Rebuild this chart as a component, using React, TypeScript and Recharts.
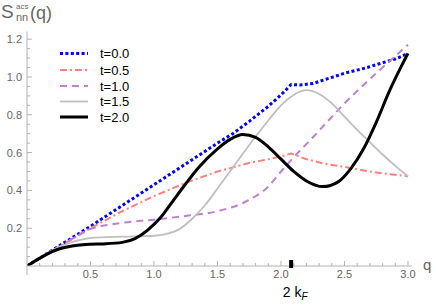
import { LineChart, Line, XAxis, YAxis } from "recharts";

// t = 0.0
const qT00 = [0, 0.25, 0.5, 0.75, 1.0, 1.25, 1.5, 1.62, 1.75, 1.9, 2.0, 2.08, 2.15, 2.25, 2.41, 2.5, 2.68, 2.75, 2.9, 3.0];
const sT00 = [0, 0.105, 0.21, 0.32, 0.43, 0.54, 0.65, 0.7, 0.765, 0.845, 0.905, 0.96, 0.958, 0.965, 1.0, 1.02, 1.05, 1.065, 1.095, 1.125];

// t = 0.5
const qT05 = [0, 0.25, 0.5, 0.75, 1.0, 1.25, 1.5, 1.75, 1.9, 2.0, 2.08, 2.2, 2.35, 2.5, 2.65, 2.8, 3.0];
const sT05 = [0, 0.1, 0.2, 0.29, 0.37, 0.44, 0.5, 0.545, 0.565, 0.58, 0.595, 0.565, 0.54, 0.525, 0.505, 0.49, 0.475];

// t = 1.0
const qT10 = [0, 0.25, 0.5, 0.75, 1.0, 1.25, 1.5, 1.75, 1.9, 2.0, 2.1, 2.25, 2.5, 2.75, 3.0];
const sT10 = [0, 0.1, 0.195, 0.228, 0.245, 0.265, 0.29, 0.35, 0.42, 0.5, 0.575, 0.68, 0.86, 1.02, 1.17];

// t = 1.5
const qT15 = [0, 0.25, 0.4, 0.5, 0.75, 1.0, 1.1, 1.2, 1.3, 1.4, 1.5, 1.62, 1.75, 1.9, 2.0, 2.1, 2.2, 2.3, 2.4, 2.5, 2.6, 2.7, 2.8, 2.9, 3.0];
const sT15 = [0, 0.1, 0.135, 0.148, 0.155, 0.16, 0.17, 0.195, 0.25, 0.32, 0.41, 0.52, 0.64, 0.77, 0.85, 0.905, 0.93, 0.91, 0.86, 0.79, 0.72, 0.655, 0.59, 0.53, 0.475];

// t = 2.0
const qT20 = [0, 0.25, 0.4, 0.5, 0.6, 0.75, 0.85, 0.95, 1.05, 1.15, 1.25, 1.35, 1.5, 1.6, 1.7, 1.8, 1.9, 2.0, 2.1, 2.2, 2.33, 2.45, 2.55, 2.65, 2.75, 2.85, 2.95, 3.0];
const sT20 = [0, 0.09, 0.11, 0.115, 0.117, 0.125, 0.145, 0.19, 0.255, 0.345, 0.435, 0.52, 0.62, 0.67, 0.695, 0.68, 0.63, 0.565, 0.5, 0.45, 0.42, 0.445, 0.515, 0.62, 0.76, 0.92, 1.06, 1.125];

const xMajor = [0.5, 1.0, 1.5, 2.0, 2.5, 3.0];
const yMajor = [0.2, 0.4, 0.6, 0.8, 1.0, 1.2];
const twoKF = 2.08;

const xTicks = [0, ...Array.from({ length: 30 }, (_, i) => Number(((i + 1) / 10).toFixed(1))), twoKF];
const yTicks = Array.from({ length: 24 }, (_, i) => Number(((i + 1) * 0.05).toFixed(2)));

const toRows = (q: number[], s: number[]) => q.map((v, i) => ({ q: v, s: s[i] }));

const series = [
  { name: "t=0.0", data: toRows(qT00, sT00), color: "#0000ff", width: 3, dash: "3 2.4", type: "linear" },
  { name: "t=0.5", data: toRows(qT05, sT05), color: "#ff8080", width: 2, dash: "7 3 2 3", type: "linear" },
  { name: "t=1.0", data: toRows(qT10, sT10), color: "#bf80cf", width: 2, dash: "7 5", type: "monotone" },
  { name: "t=1.5", data: toRows(qT15, sT15), color: "#bfbfbf", width: 1.8, dash: undefined, type: "monotone" },
  { name: "t=2.0", data: toRows(qT20, sT20), color: "#000000", width: 3, dash: undefined, type: "monotone" },
];

const axisGray = "#b3b3b3";
const labelGray = "#666666";
const font = "'Liberation Sans', Arial, sans-serif";

const XTick = (props: any) => {
  const { x, y, payload } = props;
  const v = payload.value;
  if (v === twoKF) {
    return (
      <g>
        <rect x={x - 2} y={y - 6} width={4} height={8} fill="#000" />
        <text x={x + 4} y={y + 31} textAnchor="middle" fontSize={14} fontFamily={font} fill="#000">
          2 k<tspan fontSize={10} dy={3} fontStyle="italic">F</tspan>
        </text>
      </g>
    );
  }
  if (v === 0) {
    return <line x1={x} y1={y} x2={x} y2={y + 9} stroke={axisGray} />;
  }
  const major = xMajor.some((m) => Math.abs(m - v) < 1e-6);
  return (
    <g>
      <line x1={x} y1={y} x2={x} y2={y - (major ? 5 : 3)} stroke={axisGray} />
      {major && (
        <text x={x} y={y + 12} textAnchor="middle" fontSize={11} fontFamily={font} fill={labelGray}>
          {v.toFixed(1)}
        </text>
      )}
    </g>
  );
};

const YTick = (props: any) => {
  const { x, y, payload } = props;
  const v = payload.value;
  const major = yMajor.some((m) => Math.abs(m - v) < 1e-6);
  return (
    <g>
      <line x1={x} y1={y} x2={x + (major ? 5 : 3)} y2={y} stroke={axisGray} />
      {major && (
        <text x={x - 5} y={y + 4} textAnchor="end" fontSize={11} fontFamily={font} fill={labelGray}>
          {v.toFixed(1)}
        </text>
      )}
    </g>
  );
};

const legendRows = [53.5, 70, 86, 101.5, 117];

export default function App() {
  return (
    <div style={{ position: "absolute", left: 0, top: 0, width: 436, height: 305 }}>
      <LineChart width={436} height={305} margin={{ top: 31.6, right: 24.2, left: 0, bottom: 0 }}>
        <XAxis
          type="number"
          dataKey="q"
          domain={[0, 3.03]}
          ticks={xTicks}
          tick={XTick}
          tickLine={false}
          tickSize={0}
          tickMargin={0}
          interval={0}
          height={39}
          axisLine={{ stroke: axisGray }}
          allowDataOverflow
        />
        <YAxis
          type="number"
          domain={[0, 1.24]}
          ticks={yTicks}
          tick={YTick}
          tickLine={false}
          tickSize={0}
          tickMargin={0}
          interval={0}
          width={27}
          axisLine={{ stroke: axisGray }}
          allowDataOverflow
        />
        {series.map((s) => (
          <Line
            key={s.name}
            data={s.data}
            dataKey="s"
            type={s.type as any}
            stroke={s.color}
            strokeWidth={s.width}
            strokeDasharray={s.dash}
            dot={false}
            activeDot={false}
            isAnimationActive={false}
          />
        ))}
      </LineChart>
      <svg
        width={436}
        height={305}
        style={{ position: "absolute", left: 0, top: 0, pointerEvents: "none" }}
        fontFamily={font}
      >
        <text x={1} y={18} fontSize={19} fill={labelGray}>S</text>
        <text x={16} y={9} fontSize={8} fill={labelGray}>acs</text>
        <text x={16} y={21} fontSize={11} fill={labelGray}>nn</text>
        <text x={30} y={19} fontSize={18} fill={labelGray}>(q)</text>
        <text x={423} y={270} fontSize={15} fill={labelGray}>q</text>
        {series.map((s, i) => (
          <g key={s.name}>
            <line
              x1={60}
              x2={88}
              y1={legendRows[i]}
              y2={legendRows[i]}
              stroke={s.color}
              strokeWidth={s.width}
              strokeDasharray={s.dash}
            />
            <text x={100} y={legendRows[i] + 4.5} fontSize={13} fill="#000">
              {s.name}
            </text>
          </g>
        ))}
      </svg>
    </div>
  );
}
